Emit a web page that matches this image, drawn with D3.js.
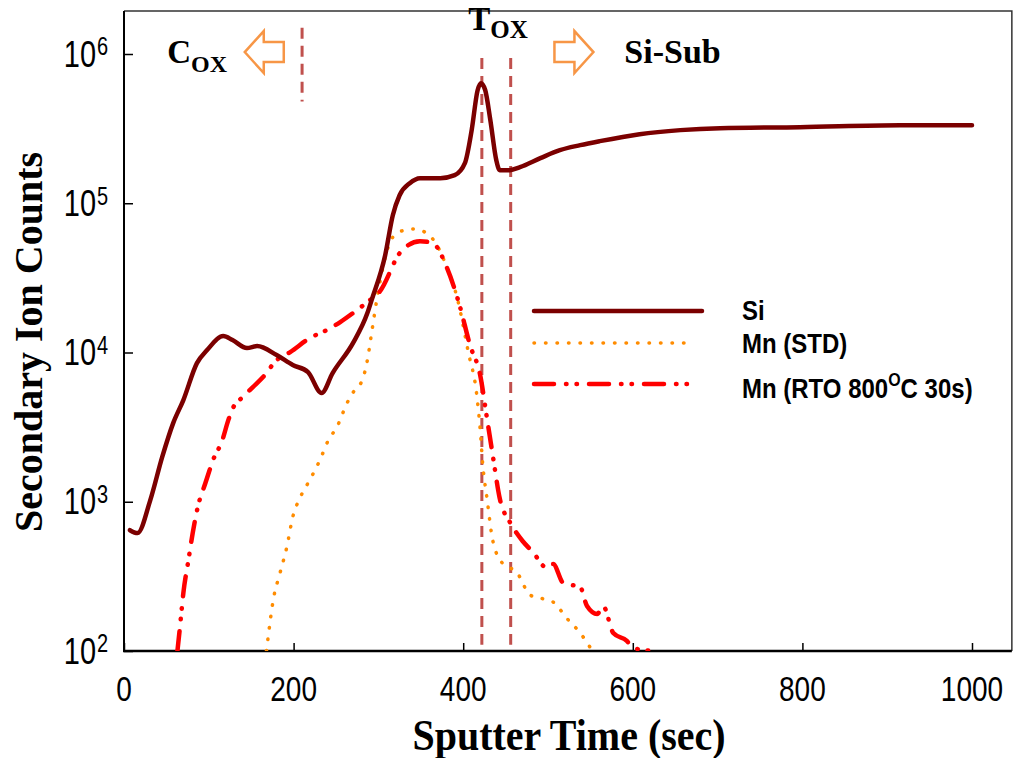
<!DOCTYPE html>
<html lang="en">
<head>
<meta charset="UTF-8" />
<title>SIMS depth profile</title>
<script src="https://d3js.org/d3.v7.min.js"></script>
<style>
  body { margin: 0; background: #fff; }
  svg { display: block; }
  .tick-label { font-family: "Liberation Sans", Arial, sans-serif; fill: #000; }
  .title { font-family: "Liberation Serif", "Times New Roman", serif; font-weight: bold; fill: #000; }
  .legend-label { font-family: "Liberation Sans", Arial, sans-serif; font-weight: bold; fill: #000; }
</style>
</head>
<body>
<svg width="1016" height="758"></svg>
<script>
// Si signal (sputter time in s, counts)
const siTime = [7, 16, 31, 45, 58, 70, 86, 98, 117, 128, 145, 157, 180, 199, 217, 233, 246, 270, 287, 292,
  308, 317, 325, 337, 349, 373, 390, 402, 410, 417, 421, 426, 432, 439, 443, 455, 467, 491, 514, 538,
  561, 608, 656, 703, 797, 915, 1000];
const siCounts = [645, 617, 1025, 1990, 3365, 4800, 8490, 10380, 12880, 12110, 10700, 11040, 9610, 8240, 7390, 5350, 7280, 11560, 18370, 22440,
  44900, 83200, 113200, 136300, 147300, 147300, 154300, 185600, 309000, 571700, 636800, 571700, 360600, 194500, 166700, 166700, 174600, 200600, 226800, 245000,
  260600, 290300, 309000, 318600, 323600, 333700, 333700];

// Mn, as deposited
const mnStdTime = [168, 170, 176, 184, 192, 199, 208, 219, 231, 241, 251, 263, 272, 281, 287, 292, 298, 302, 317, 331,
  341, 355, 369, 381, 393, 406, 416, 420, 423, 428, 435, 447, 463, 479, 506, 522, 538, 550];
const mnStdCounts = [100, 124, 220, 333, 497, 790, 1075, 1397, 1901, 2588, 3162, 4580, 5600, 6530, 8890, 13490, 22440, 30060, 59290, 66070,
  67100, 64000, 52360, 36730, 23120, 10070, 5190, 3070, 1790, 1059, 546, 383, 338, 237, 213, 166, 132, 105];

// Mn after RTO 800C 30s
const mnRtoTime = [63, 66, 70, 76, 81, 87, 96, 105, 116, 123, 129, 140, 152, 164, 180, 196, 219, 239, 255, 270,
  287, 302, 326, 349, 364, 381, 396, 408, 420, 428, 435, 443, 455, 463, 470, 482, 499, 506, 518, 538,
  546, 558, 565, 577, 593, 600, 624];
const mnRtoCounts = [100, 145, 245, 407, 617, 922, 1334, 1901, 2588, 3524, 4305, 5025, 5865, 6845, 8890, 10070, 12480, 14130, 15990, 18370,
  21780, 25780, 47000, 55700, 54050, 36730, 20470, 11220, 7060, 3640, 2024, 1059, 731, 617, 546, 461, 360, 383, 285, 268,
  200, 177, 200, 132, 117, 105, 100];

const xTicks = [0, 200, 400, 600, 800, 1000];
const yTicks = [1e2, 1e3, 1e4, 1e5, 1e6];
const seriesNames = ["Si", "Mn (STD)", "Mn (RTO 800", "C 30s)"];

// region boundaries (time, top count, bottom count)
const boundaryTimes = [210, 422, 456];
const boundaryTop = [1.5e6, 9.4e5, 9.4e5];
const boundaryBottom = [4.8e5, 110, 110];

const svg = d3.select("svg");

const x = d3.scaleLinear().domain([0, 1000]).range([124, 972]);
const y = d3.scaleLog().domain([1e2, 1e6]).range([651, 54]);
const xMax = 1047, yMax = 1.94e6;

const plotL = x(0), plotR = x(xMax), plotT = y(yMax), plotB = y(1e2);

svg.append("defs").append("clipPath").attr("id", "clip")
  .append("rect")
  .attr("x", plotL).attr("y", plotT)
  .attr("width", plotR - plotL).attr("height", plotB - plotT);

// frame: top and right thin
svg.append("path")
  .attr("d", `M${plotL},${plotT}H${plotR}V${plotB}`)
  .attr("fill", "none").attr("stroke", "#333").attr("stroke-width", 1.5);

// axes with inward ticks
const xAxis = svg.append("g")
  .attr("transform", `translate(0,${plotB})`)
  .call(d3.axisBottom(x).tickValues(xTicks).tickSizeInner(-8).tickSizeOuter(0).tickFormat(""));
xAxis.select(".domain").remove();
xAxis.selectAll(".tick line").attr("stroke", "#000").attr("stroke-width", 1.5);

const yAxis = svg.append("g")
  .attr("transform", `translate(${plotL},0)`)
  .call(d3.axisLeft(y).tickValues(yTicks).tickSizeInner(-9).tickSizeOuter(0).tickFormat(""));
yAxis.select(".domain").remove();
yAxis.selectAll(".tick line").attr("stroke", "#000").attr("stroke-width", 1.5);

svg.append("line")
  .attr("x1", plotL).attr("x2", plotL).attr("y1", plotT).attr("y2", plotB + 1)
  .attr("stroke", "#000").attr("stroke-width", 2);
svg.append("line")
  .attr("x1", plotL - 1).attr("x2", plotR).attr("y1", plotB).attr("y2", plotB)
  .attr("stroke", "#000").attr("stroke-width", 2.5);

// x tick labels
svg.selectAll(".xlab").data(xTicks).enter()
  .append("text")
  .attr("class", "tick-label")
  .attr("transform", d => `translate(${x(d)},701) scale(1,1.22)`)
  .attr("text-anchor", "middle")
  .attr("font-size", 28)
  .text(d => d);

// y tick labels 10^n
const ylab = svg.selectAll(".ylab").data(yTicks).enter()
  .append("g")
  .attr("transform", d => `translate(96,${y(d)}) scale(1,1.25)`);
ylab.append("text")
  .attr("class", "tick-label")
  .attr("text-anchor", "end")
  .attr("y", 10)
  .attr("font-size", 29)
  .text("10");
ylab.append("text")
  .attr("class", "tick-label")
  .attr("x", 1)
  .attr("y", 1)
  .attr("font-size", 20)
  .text(d => Math.round(Math.log10(d)));

// axis titles
svg.append("text")
  .attr("class", "title")
  .attr("transform", "translate(569,750) scale(1,1.12)")
  .attr("text-anchor", "middle")
  .attr("font-size", 40)
  .text("Sputter Time (sec)");

svg.append("text")
  .attr("class", "title")
  .attr("transform", "translate(42,342) rotate(-90)")
  .attr("text-anchor", "middle")
  .attr("font-size", 40)
  .text("Secondary Ion Counts");

// boundary dashed lines
svg.selectAll(".boundary").data(boundaryTimes).enter()
  .append("line")
  .attr("x1", d => x(d)).attr("x2", d => x(d))
  .attr("y1", (d, i) => y(boundaryTop[i]))
  .attr("y2", (d, i) => y(boundaryBottom[i]))
  .attr("stroke", "#c0504d")
  .attr("stroke-width", 3)
  .attr("stroke-dasharray", "11,7");

// series
const line = d3.line()
  .x(d => x(d[0]))
  .y(d => y(d[1]))
  .curve(d3.curveMonotoneX);

const plot = svg.append("g").attr("clip-path", "url(#clip)");

const styles = {
  si: { color: "#7b0000", width: 4.5, dash: null },
  std: { color: "#ff8c00", width: 3.5, dash: "0.5,11" },
  rto: { color: "#ff0000", width: 4.5, dash: "20,12,0.5,10,0.5,12" }
};

function drawSeries(times, counts, st) {
  plot.append("path")
    .datum(d3.zip(times, counts))
    .attr("fill", "none")
    .attr("stroke", st.color)
    .attr("stroke-width", st.width)
    .attr("stroke-linecap", "round")
    .attr("stroke-linejoin", "round")
    .attr("stroke-dasharray", st.dash)
    .attr("d", line);
}
drawSeries(mnStdTime, mnStdCounts, styles.std);
drawSeries(mnRtoTime, mnRtoCounts, styles.rto);
drawSeries(siTime, siCounts, styles.si);

// legend
const legend = svg.append("g");
const legendRows = [
  { st: styles.si, y: 311, x2: 702 },
  { st: styles.std, y: 343, x2: 693 },
  { st: styles.rto, y: 384, x2: 692 }
];
legendRows.forEach(r => {
  legend.append("line")
    .attr("x1", 534).attr("x2", r.x2)
    .attr("y1", r.y).attr("y2", r.y)
    .attr("stroke", r.st.color)
    .attr("stroke-width", r.st.width)
    .attr("stroke-linecap", "round")
    .attr("stroke-dasharray", r.st.dash);
});
legend.append("text").attr("class", "legend-label")
  .attr("transform", "translate(742,320) scale(1,1.12)")
  .attr("font-size", 24).text(seriesNames[0]);
legend.append("text").attr("class", "legend-label")
  .attr("transform", "translate(742,353) scale(1,1.12)")
  .attr("font-size", 24).text(seriesNames[1]);
const rtoLab = legend.append("text").attr("class", "legend-label")
  .attr("transform", "translate(742,398) scale(1,1.12)")
  .attr("font-size", 24);
rtoLab.append("tspan").text(seriesNames[2]);
rtoLab.append("tspan").attr("font-size", 16).attr("dy", -11).text("O");
rtoLab.append("tspan").attr("dy", 11).text(seriesNames[3]);

// region annotations
function subLabel(t, v, big, small, bigSize, smallSize, drop) {
  const g = svg.append("text").attr("class", "title")
    .attr("x", x(t)).attr("y", y(v));
  g.append("tspan").attr("font-size", bigSize).text(big);
  g.append("tspan").attr("font-size", smallSize).attr("dy", drop).text(small);
}
subLabel(51, 8.7e5, "C", "OX", 33, 24, 9);
subLabel(406, 1.45e6, "T", "OX", 33, 25, 8);

svg.append("text").attr("class", "title")
  .attr("x", x(590)).attr("y", y(8.7e5))
  .attr("font-size", 34)
  .text("Si-Sub");

// hollow arrows
const arrowShape = [[-19, -10], [1, -10], [1, -21], [20, 0], [1, 21], [1, 10], [-19, 10]];
function arrow(t, v, dir) {
  svg.append("path")
    .attr("d", d3.line()(arrowShape.map(p => [p[0] * dir, p[1]])) + "Z")
    .attr("transform", `translate(${x(t)},${y(v)})`)
    .attr("fill", "#fff")
    .attr("stroke", "#f79646")
    .attr("stroke-width", 2.5)
    .attr("stroke-linejoin", "miter");
}
arrow(166, 1.03e6, -1);
arrow(530, 1.03e6, 1);
</script>
</body>
</html>
